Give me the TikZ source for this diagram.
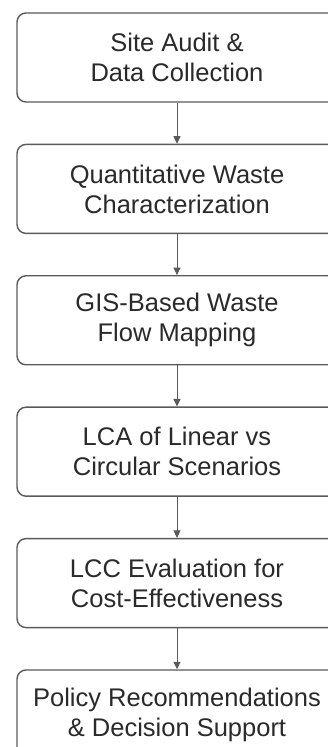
\documentclass[tikz,border=0pt]{standalone}
\usepackage{fontspec}
\setmainfont{Liberation Sans}
\usepackage{tikz}
\usetikzlibrary{positioning, arrows.meta}

\definecolor{linegray}{HTML}{5A5A5A}
\definecolor{textgray}{HTML}{2A2A2A}

\tikzset{
    stage/.style={draw=linegray, line width=1.4pt, rounded corners=9pt, fill=white,
        minimum width=320pt, minimum height=89pt, inner sep=0pt, align=center,
        text=textgray, font=\fontsize{25.5}{30}\selectfont},
    flow/.style={draw=linegray, line width=1pt, -{Triangle[length=7.5pt, width=7pt]}}
}

\begin{document}
\begin{tikzpicture}[x=1pt, y=1pt, node distance=41pt]
    \useasboundingbox (0,0) rectangle (328,747);
    \clip (0,0) rectangle (328,747);
    % steps
    \node[stage](audit) at (177,689.5) {Site Audit \&\\Data Collection};
    \node[stage, below=of audit](quant) {Quantitative Waste\\Characterization};
    \node[stage, below=of quant](gis) {GIS-Based Waste\\Flow Mapping};
    \node[stage, below=of gis](lca) {LCA of Linear vs\\Circular Scenarios};
    \node[stage, below=of lca](lcc) {LCC Evaluation for\\Cost-Effectiveness};
    \node[stage, below=of lcc](policy) {Policy Recommendations\\\& Decision Support};
    % arrows
    \path
        (audit) edge [flow] (quant)
        (quant) edge [flow] (gis)
        (gis) edge [flow] (lca)
        (lca) edge [flow] (lcc)
        (lcc) edge [flow] (policy)
        ;
\end{tikzpicture}
\end{document}
